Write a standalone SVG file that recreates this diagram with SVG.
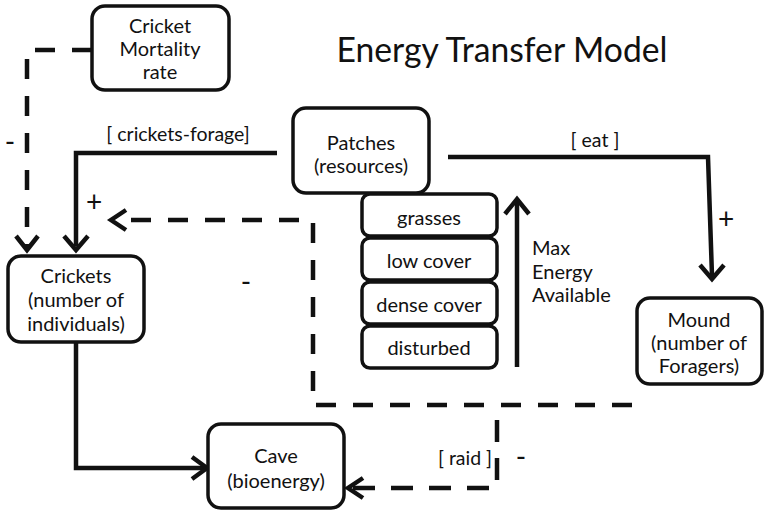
<svg xmlns="http://www.w3.org/2000/svg" width="765" height="512" viewBox="0 0 765 512">
<style>
text{font-family:Lato,"Open Sans","Liberation Sans",sans-serif;fill:#111;font-size:20px;text-anchor:middle}
.box{fill:#fff;stroke:#111;stroke-width:3.5}
.solid{fill:none;stroke:#111;stroke-width:4.5;stroke-linejoin:miter}
.dash{fill:none;stroke:#111;stroke-width:4.5;stroke-dasharray:20 17}
.head{fill:none;stroke:#111;stroke-width:4.5;stroke-linecap:butt;stroke-linejoin:miter}
.sign{font-size:28px}
.lbl{font-size:19.5px}
</style>
<rect width="765" height="512" fill="#fff"/>
<text x="502" y="62" style="font-size:34px" textLength="331" lengthAdjust="spacingAndGlyphs">Energy Transfer Model</text>

<g id="connectors">
  <!-- mortality to crickets -->
  <path class="dash" d="M92 50 H27 V246"/>
  <path class="head" d="M16 236 L27 250 L38 236"/>
  <!-- crickets-forage -->
  <path class="solid" d="M277 153 H76 V246"/>
  <path class="head" d="M64 236 L76 250 L88 236"/>
  <!-- eat -->
  <path class="solid" d="M448 157 H708 L712 276"/>
  <path class="head" d="M700 265 L712 279 L724 265"/>
  <!-- crickets to cave -->
  <path class="solid" d="M76 342 V468 H204"/>
  <path class="head" d="M192 457 L207 468 L192 479"/>
  <!-- patches feedback to crickets -->
  <path class="dash" d="M632 405 H313 V220 H114"/>
  <path class="head" d="M126 210 L111 220 L126 230"/>
  <!-- raid -->
  <path class="dash" d="M497 420 V488 H350" style="stroke-dasharray:22 16"/>
  <path class="head" d="M363 478 L348 488 L363 498"/>
  <!-- max energy arrow -->
  <path class="solid" d="M517 367 V202"/>
  <path class="head" d="M505 214 L517 199 L529 214"/>
</g>

<g id="labels">
  <text class="lbl" x="178" y="141">[ crickets-forage]</text>
  <text class="lbl" x="595" y="147">[ eat ]</text>
  <text class="lbl" x="465" y="465">[ raid ]</text>
  <text class="sign" x="10" y="152">-</text>
  <text class="sign" x="246" y="292">-</text>
  <text class="sign" x="521" y="467">-</text>
  <text class="sign" x="94" y="212">+</text>
  <text class="sign" x="726" y="229">+</text>
  <text x="532" y="255" style="text-anchor:start">Max</text>
  <text x="532" y="279" style="text-anchor:start">Energy</text>
  <text x="532" y="302" style="text-anchor:start">Available</text>
</g>

<g id="mortality">
  <rect class="box" x="92" y="6" width="137" height="84" rx="13"/>
  <text x="160" y="33">Cricket</text>
  <text x="160" y="56">Mortality</text>
  <text x="160" y="79">rate</text>
</g>

<g id="crickets">
  <rect class="box" x="8" y="256" width="136" height="86" rx="13"/>
  <text x="76" y="283">Crickets</text>
  <text x="76" y="307">(number of</text>
  <text x="76" y="331">individuals)</text>
</g>

<g id="patches">
  <rect class="box" x="293" y="108" width="136" height="85" rx="13"/>
  <text x="361" y="150">Patches</text>
  <text x="361" y="173">(resources)</text>
</g>

<g id="grasses">
  <rect class="box" x="362" y="194" width="135" height="42" rx="8"/>
  <text x="429" y="225">grasses</text>
</g>
<g id="lowcover">
  <rect class="box" x="362" y="238" width="135" height="42" rx="8"/>
  <text x="429" y="268">low cover</text>
</g>
<g id="densecover">
  <rect class="box" x="362" y="282" width="135" height="42" rx="8"/>
  <text x="429" y="312">dense cover</text>
</g>
<g id="disturbed">
  <rect class="box" x="362" y="326" width="135" height="42" rx="8"/>
  <text x="429" y="355">disturbed</text>
</g>

<g id="mound">
  <rect class="box" x="637" y="298" width="125" height="86" rx="13"/>
  <text x="699" y="327">Mound</text>
  <text x="699" y="350">(number of</text>
  <text x="699" y="373">Foragers)</text>
</g>

<g id="cave">
  <rect class="box" x="208" y="424" width="136" height="84" rx="13"/>
  <text x="276" y="463">Cave</text>
  <text x="276" y="488">(bioenergy)</text>
</g>
</svg>
